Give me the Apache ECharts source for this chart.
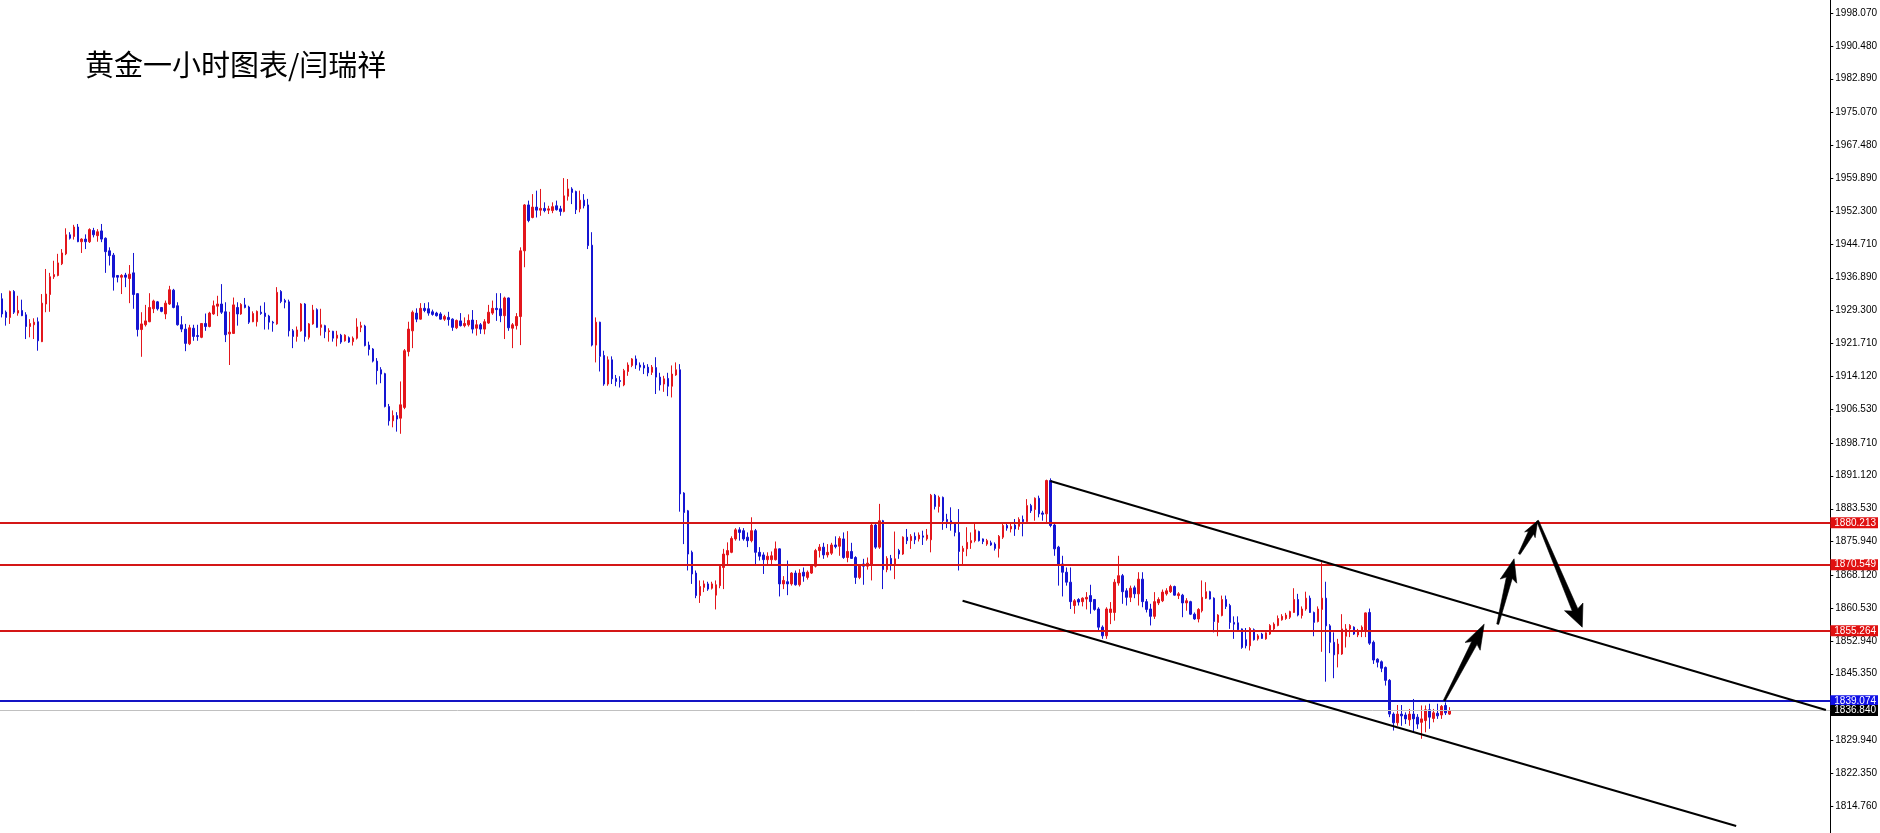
<!DOCTYPE html>
<html>
<head>
<meta charset="utf-8">
<script src="https://cdn.jsdelivr.net/npm/echarts@6/dist/echarts.min.js"></script>
<style>
html,body{margin:0;padding:0;background:#fff;}
#chart{width:1880px;height:833px;}
</style>
</head>
<body>
<div id="chart"></div>
<script>
// Hourly gold candles: [open, close, low, high]
const candles = [
[1932.0,1928.5,1927.7,1933.3],[1928.9,1927.7,1925.8,1929.3],[1927.7,1933.7,1926.2,1933.9],[1933.7,1928.9,1928.5,1934.0],
[1928.7,1929.3,1928.1,1932.7],[1929.3,1928.1,1928.0,1931.8],[1928.3,1925.6,1922.7,1928.9],[1925.6,1926.3,1923.1,1927.3],
[1926.0,1926.6,1922.7,1927.5],[1926.7,1922.3,1920.0,1927.7],[1922.1,1931.0,1922.0,1933.1],[1930.8,1933.1,1928.9,1938.9],
[1933.0,1937.1,1929.0,1938.0],[1937.1,1937.6,1936.6,1940.8],[1937.4,1940.3,1937.2,1942.4],[1940.1,1942.6,1939.8,1943.5],
[1942.4,1946.8,1942.1,1948.3],[1946.8,1946.0,1945.7,1947.4],[1946.4,1948.6,1945.7,1949.1],[1948.6,1945.2,1945.1,1949.3],
[1945.2,1945.8,1942.6,1946.0],[1945.8,1945.2,1943.5,1946.9],[1945.2,1948.0,1944.9,1948.3],[1947.8,1946.8,1946.2,1948.4],
[1946.6,1947.5,1945.2,1948.1],[1947.7,1945.8,1945.1,1949.3],[1946.0,1942.9,1938.0,1946.2],[1943.1,1942.0,1939.7,1943.9],
[1942.1,1937.0,1933.9,1942.6],[1937.4,1937.0,1935.8,1937.5],[1937.0,1937.4,1933.1,1937.7],[1937.5,1937.0,1934.7,1938.0],
[1936.7,1937.7,1931.0,1939.8],[1938.0,1933.0,1929.7,1942.6],[1933.2,1924.9,1923.3,1933.3],[1924.9,1926.2,1918.6,1928.9],
[1926.0,1926.9,1925.6,1930.6],[1926.7,1930.0,1926.6,1933.3],[1929.7,1931.5,1928.7,1931.8],[1931.3,1929.7,1929.3,1931.5],
[1930.0,1929.1,1928.9,1930.1],[1928.5,1931.0,1927.3,1931.6],[1930.8,1934.1,1930.6,1935.0],[1934.0,1930.0,1929.8,1934.3],
[1930.4,1926.0,1925.8,1931.2],[1926.0,1925.0,1924.3,1928.0],[1925.0,1921.7,1919.9,1926.2],[1921.6,1925.3,1921.3,1926.0],
[1925.2,1923.3,1922.3,1926.0],[1923.5,1923.3,1922.3,1926.0],[1923.1,1926.3,1922.9,1926.4],[1926.3,1925.6,1924.6,1928.6],
[1925.6,1928.7,1925.4,1929.0],[1928.5,1930.4,1928.3,1931.6],[1930.3,1930.8,1928.0,1932.7],[1930.8,1928.9,1928.5,1935.4],
[1929.0,1923.7,1922.0,1931.2],[1923.9,1924.3,1916.7,1929.0],[1924.0,1930.6,1923.9,1932.3],[1930.0,1928.5,1925.8,1931.2],
[1928.5,1930.7,1928.3,1931.0],[1930.6,1930.0,1929.8,1932.2],[1930.1,1926.6,1926.2,1930.4],[1926.7,1928.6,1926.6,1929.1],
[1926.7,1929.1,1925.6,1929.3],[1928.9,1928.6,1928.3,1930.4],[1928.7,1927.9,1924.9,1931.2],[1928.0,1926.6,1924.9,1928.3],
[1926.6,1926.4,1924.4,1926.9],[1926.2,1933.5,1926.0,1934.7],[1933.7,1931.4,1931.0,1934.0],[1931.6,1931.2,1929.8,1932.0],
[1931.3,1924.6,1923.3,1931.8],[1924.6,1923.3,1920.6,1925.0],[1923.3,1924.8,1922.1,1925.6],[1924.6,1930.8,1924.4,1931.0],
[1930.8,1923.3,1922.1,1931.0],[1923.1,1926.2,1922.6,1926.4],[1926.2,1929.4,1926.0,1930.6],[1929.5,1925.4,1925.3,1929.8],
[1925.4,1926.0,1923.5,1929.7],[1925.8,1924.4,1922.9,1926.0],[1924.4,1924.6,1922.1,1925.2],[1924.5,1922.9,1922.1,1924.6],
[1922.9,1923.6,1921.0,1924.6],[1923.6,1922.0,1921.6,1923.9],[1922.3,1923.6,1922.1,1923.8],[1923.0,1922.0,1921.8,1923.3],
[1922.1,1922.9,1921.2,1923.3],[1922.9,1925.5,1922.6,1927.5],[1925.4,1925.8,1924.3,1926.7],[1925.7,1921.2,1921.0,1926.0],
[1921.3,1920.3,1918.9,1922.1],[1920.4,1917.6,1917.3,1920.6],[1917.6,1915.4,1912.2,1918.3],[1915.6,1914.6,1912.5,1916.2],
[1914.7,1907.1,1906.9,1914.9],[1907.1,1903.8,1902.7,1907.7],[1903.8,1905.0,1902.3,1906.2],[1905.0,1904.2,1901.3,1905.8],
[1904.4,1907.5,1900.8,1912.9],[1906.9,1920.0,1906.5,1920.4],[1919.8,1925.0,1918.7,1926.7],[1924.6,1928.9,1920.6,1929.3],
[1928.7,1927.3,1926.6,1929.8],[1927.3,1929.8,1927.2,1931.0],[1929.8,1929.3,1928.9,1931.0],[1929.7,1928.7,1928.1,1931.2],
[1929.0,1928.4,1928.1,1929.5],[1928.7,1928.1,1927.9,1929.0],[1928.5,1927.3,1927.2,1928.9],[1927.3,1927.9,1926.9,1928.3],
[1927.7,1927.2,1925.8,1929.0],[1927.3,1925.4,1924.6,1927.5],[1925.3,1927.0,1925.0,1927.2],[1926.9,1925.8,1925.6,1928.7],
[1925.8,1926.3,1925.4,1927.7],[1926.0,1927.0,1925.6,1928.4],[1927.1,1925.0,1924.0,1929.4],[1925.2,1926.0,1923.5,1927.1],
[1926.0,1925.0,1923.9,1926.4],[1925.0,1926.7,1923.8,1927.3],[1926.4,1928.9,1926.2,1930.6],[1928.7,1929.8,1928.3,1931.6],
[1929.8,1929.5,1926.9,1933.3],[1929.7,1928.1,1926.6,1933.3],[1928.1,1932.2,1922.7,1932.5],[1932.2,1925.3,1924.6,1932.3],
[1925.2,1926.0,1920.6,1926.4],[1925.8,1927.9,1924.9,1928.7],[1927.9,1943.1,1921.3,1943.9],[1943.1,1953.7,1939.3,1953.9],
[1953.7,1950.1,1949.7,1954.7],[1950.8,1953.2,1950.6,1956.2],[1953.2,1952.5,1950.8,1957.0],[1952.5,1952.9,1951.2,1957.4],
[1952.9,1952.4,1952.0,1954.3],[1952.5,1952.8,1951.6,1953.5],[1952.4,1953.3,1951.8,1954.3],[1953.5,1952.6,1952.4,1954.7],
[1952.8,1952.2,1951.2,1953.5],[1952.2,1955.8,1952.0,1959.9],[1955.7,1957.4,1954.7,1959.7],[1957.4,1956.6,1953.9,1957.8],
[1956.8,1952.6,1951.6,1957.0],[1952.8,1954.8,1952.0,1957.0],[1954.8,1953.5,1952.9,1956.2],[1953.7,1944.3,1943.5,1955.1],
[1944.4,1921.3,1921.0,1947.4],[1921.3,1926.6,1917.3,1927.7],[1926.6,1918.7,1915.2,1926.7],[1918.9,1912.3,1911.9,1920.0],
[1912.3,1917.9,1911.9,1918.7],[1917.9,1913.5,1912.3,1918.7],[1913.6,1912.9,1911.8,1914.4],[1913.1,1912.9,1911.5,1914.1],
[1912.1,1915.4,1911.8,1915.8],[1915.2,1916.7,1914.2,1917.3],[1916.6,1918.1,1916.2,1918.3],[1918.1,1916.7,1915.8,1918.9],
[1916.7,1916.2,1915.4,1917.3],[1916.6,1916.0,1914.6,1917.3],[1916.2,1914.9,1914.1,1916.9],[1915.0,1916.2,1914.4,1916.7],
[1916.1,1913.9,1910.0,1918.5],[1913.9,1912.1,1910.8,1914.9],[1912.3,1913.5,1910.5,1914.2],[1913.6,1911.8,1909.5,1914.9],
[1911.8,1914.6,1909.2,1916.6],[1914.4,1915.6,1914.2,1917.3],[1915.6,1886.9,1882.8,1916.9],[1887.1,1882.6,1875.3,1887.3],
[1883.0,1873.0,1869.2,1883.2],[1873.4,1868.4,1866.1,1873.8],[1868.6,1863.4,1862.8,1869.2],[1863.4,1865.5,1861.7,1866.9],
[1865.3,1866.1,1864.2,1866.9],[1866.1,1864.9,1864.5,1866.6],[1865.1,1866.1,1864.8,1866.6],[1863.5,1865.9,1860.2,1866.9],
[1865.7,1870.2,1865.1,1870.7],[1869.9,1873.0,1864.9,1874.2],[1872.8,1873.8,1870.7,1875.7],[1873.4,1876.6,1873.2,1877.1],
[1876.5,1878.6,1876.1,1879.0],[1878.6,1878.0,1876.1,1879.2],[1878.4,1876.5,1876.1,1879.0],[1876.9,1876.1,1874.6,1878.0],
[1876.1,1878.4,1875.7,1881.5],[1878.4,1873.4,1870.3,1878.8],[1873.4,1872.5,1871.5,1874.6],[1872.8,1871.7,1868.4,1873.4],
[1871.7,1872.5,1870.7,1873.4],[1871.7,1872.6,1870.3,1873.6],[1871.7,1874.2,1871.5,1875.9],[1874.2,1866.1,1863.2,1874.3],
[1866.1,1866.9,1864.9,1867.9],[1866.6,1866.1,1863.5,1871.5],[1866.1,1868.6,1865.7,1868.8],[1868.6,1865.9,1865.7,1869.2],
[1865.9,1868.6,1865.5,1869.5],[1868.8,1867.9,1866.6,1869.9],[1867.6,1868.8,1867.1,1869.2],[1868.6,1870.3,1868.4,1870.7],
[1870.2,1873.8,1869.9,1874.2],[1873.8,1874.6,1872.2,1875.3],[1874.6,1872.8,1871.9,1875.6],[1872.8,1873.4,1872.2,1875.3],
[1873.2,1875.1,1872.8,1875.6],[1875.1,1874.7,1874.3,1877.1],[1874.8,1876.6,1872.6,1877.1],[1876.5,1872.2,1871.9,1878.0],
[1872.2,1873.6,1871.1,1878.3],[1873.6,1872.0,1871.9,1875.6],[1872.2,1867.6,1866.1,1872.5],[1867.6,1870.3,1867.2,1870.7],
[1870.7,1870.2,1865.9,1871.9],[1870.2,1870.9,1869.4,1872.2],[1870.7,1879.7,1866.9,1880.0],[1879.7,1874.6,1874.2,1880.0],
[1874.6,1880.7,1874.2,1884.6],[1880.7,1869.4,1864.9,1880.9],[1869.4,1872.0,1868.8,1872.5],[1872.0,1870.5,1869.2,1872.8],
[1870.5,1871.9,1867.2,1878.2],[1873.8,1873.0,1871.9,1874.2],[1873.0,1876.9,1872.8,1877.1],[1876.9,1876.1,1875.3,1878.8],
[1876.1,1877.1,1874.2,1877.6],[1877.1,1876.3,1875.3,1878.0],[1876.5,1877.4,1875.9,1878.0],[1877.2,1876.9,1875.1,1878.4],
[1876.5,1877.4,1876.1,1878.8],[1876.3,1886.6,1873.4,1886.9],[1886.6,1884.0,1883.3,1886.9],[1884.0,1886.1,1882.6,1886.5],
[1886.1,1880.7,1878.6,1886.3],[1881.0,1880.5,1879.0,1882.3],[1880.7,1880.0,1878.4,1883.8],[1880.0,1878.0,1877.1,1880.3],
[1878.0,1873.6,1869.2,1883.4],[1873.6,1874.3,1870.3,1874.9],[1874.2,1875.7,1872.5,1879.2],[1875.6,1876.1,1874.2,1878.0],
[1876.1,1878.6,1875.7,1880.0],[1878.2,1876.1,1875.9,1878.4],[1876.5,1875.9,1875.3,1876.6],[1875.3,1876.1,1874.9,1876.5],
[1875.6,1875.1,1874.9,1876.1],[1875.3,1874.3,1873.8,1875.7],[1874.3,1877.1,1872.2,1877.4],[1876.9,1879.6,1876.5,1880.0],
[1879.6,1879.0,1878.4,1880.0],[1878.8,1879.4,1878.0,1880.0],[1879.7,1878.8,1877.2,1881.1],[1879.4,1881.0,1878.6,1881.5],
[1881.0,1880.5,1877.1,1881.9],[1880.5,1884.2,1880.2,1885.7],[1884.2,1883.0,1882.5,1884.6],[1883.3,1885.9,1880.7,1886.1],
[1885.9,1882.3,1881.5,1886.5],[1882.5,1882.2,1880.7,1883.0],[1882.3,1890.0,1880.0,1890.2],[1890.0,1879.6,1879.2,1890.5],
[1879.7,1874.2,1872.6,1880.0],[1874.6,1870.7,1865.7,1874.9],[1870.7,1868.8,1863.2,1872.6],[1868.8,1866.5,1865.7,1869.9],
[1866.5,1862.0,1860.3,1869.9],[1861.1,1862.2,1859.2,1862.6],[1862.5,1861.9,1861.1,1862.8],[1862.0,1862.8,1860.9,1863.0],
[1862.6,1863.0,1860.2,1864.2],[1863.4,1862.0,1859.2,1865.9],[1862.5,1860.2,1859.9,1862.6],[1860.3,1856.1,1855.3,1860.7],
[1856.1,1854.1,1853.4,1856.5],[1854.1,1860.3,1853.4,1860.7],[1859.5,1860.3,1856.8,1861.9],[1859.5,1866.5,1857.6,1867.2],
[1866.3,1868.0,1865.7,1872.6],[1868.0,1864.3,1861.5,1868.4],[1864.5,1863.0,1861.1,1865.1],[1863.0,1865.1,1861.9,1865.7],
[1865.2,1863.8,1862.8,1865.7],[1863.8,1867.2,1861.1,1868.8],[1867.2,1862.0,1860.7,1868.8],[1862.0,1860.2,1859.5,1862.6],
[1860.3,1858.6,1856.5,1861.5],[1858.6,1862.0,1858.0,1864.2],[1861.7,1862.5,1861.2,1863.0],[1862.2,1864.2,1861.9,1864.8],
[1863.8,1864.5,1863.4,1865.1],[1864.3,1865.5,1864.0,1865.9],[1865.5,1863.5,1863.4,1865.7],[1863.4,1863.8,1862.6,1864.2],
[1863.5,1861.7,1858.4,1863.8],[1861.7,1862.2,1859.9,1862.8],[1862.0,1859.1,1858.9,1862.2],[1859.1,1858.0,1857.8,1859.5],
[1858.0,1860.2,1857.2,1860.5],[1859.9,1863.0,1859.5,1866.9],[1862.8,1864.3,1862.6,1866.5],[1864.3,1862.6,1862.5,1864.5],
[1862.8,1857.4,1854.9,1863.0],[1857.2,1858.9,1854.0,1859.1],[1858.8,1862.5,1858.6,1863.4],[1862.5,1860.9,1860.3,1863.4],
[1861.1,1857.2,1855.7,1861.5],[1857.2,1856.8,1853.4,1858.6],[1857.1,1855.5,1855.3,1858.6],[1855.7,1851.4,1851.1,1855.8],
[1853.2,1851.8,1851.2,1855.9],[1851.8,1855.8,1850.7,1856.1],[1855.5,1853.2,1853.0,1855.8],[1853.4,1854.1,1853.0,1854.5],
[1854.5,1853.5,1853.4,1854.8],[1853.4,1854.8,1853.2,1854.9],[1854.5,1856.5,1854.3,1856.8],[1855.7,1856.8,1855.3,1857.2],
[1856.5,1858.1,1856.3,1858.8],[1857.8,1858.6,1857.6,1859.1],[1858.1,1858.9,1857.8,1859.4],[1858.4,1859.7,1858.0,1859.9],
[1859.5,1862.5,1859.4,1865.1],[1862.5,1858.9,1858.6,1863.8],[1858.8,1860.3,1858.1,1860.9],[1860.3,1862.8,1859.9,1864.3],
[1862.8,1859.5,1859.4,1863.4],[1859.5,1857.2,1854.0,1859.7],[1857.4,1860.3,1857.2,1860.9],[1860.2,1862.8,1850.4,1871.1],
[1862.8,1856.4,1843.5,1866.6],[1856.4,1852.6,1850.1,1856.8],[1852.6,1849.7,1844.3,1854.9],[1849.9,1852.2,1846.8,1853.4],
[1849.9,1855.7,1849.7,1859.1],[1854.0,1855.7,1851.4,1856.8],[1855.7,1856.5,1853.8,1856.8],[1856.1,1854.5,1854.3,1856.3],
[1854.3,1855.3,1853.8,1855.7],[1855.3,1856.1,1853.8,1856.5],[1855.3,1859.4,1853.8,1859.5],[1859.5,1852.4,1852.0,1860.4],
[1852.6,1848.5,1847.6,1853.0],[1848.7,1848.0,1846.8,1848.9],[1848.1,1846.6,1845.7,1848.4],[1846.8,1843.8,1842.6,1847.0],
[1843.8,1836.0,1835.3,1844.1],[1836.0,1834.0,1832.2,1836.4],[1834.0,1836.0,1833.3,1838.1],[1836.0,1835.6,1833.3,1838.1],
[1835.8,1834.9,1833.7,1836.4],[1834.7,1836.0,1833.3,1837.2],[1836.0,1834.9,1831.8,1839.5],[1835.3,1833.7,1832.6,1836.0],
[1834.1,1834.9,1830.3,1838.0],[1834.5,1837.0,1831.8,1838.0],[1837.0,1835.3,1832.6,1838.4],[1835.0,1836.3,1834.1,1837.2],
[1836.2,1835.6,1834.9,1838.4],[1835.8,1837.8,1834.9,1838.1],[1838.0,1836.3,1835.8,1838.7],[1836.0,1836.8,1835.8,1837.6]
];

// Category slots (bars plus empty space to the right)
const categories = Array.from({length: 459}, (_, i) => String(i));

// Right-hand price scale tick labels
const yTicks = [1998.070,1990.480,1982.890,1975.070,1967.480,1959.890,1952.300,1944.710,1936.890,1929.300,
  1921.710,1914.120,1906.530,1898.710,1891.120,1883.530,1875.940,1868.120,1860.530,1852.940,1845.350,
  1829.940,1822.350,1814.760];

// Horizontal levels
const resistanceLevels = [1880.213, 1870.549, 1855.264];
const blueLevel = 1839.074;
const bidLevel = 1836.840;

// Channel lines [barIndex, price]
const channelUpper = [[262.9, 1889.89], [457.4, 1836.95]];
const channelLower = [[240.9, 1862.22], [434.9, 1810.13]];

// Projection arrows [fromBar, fromPrice, toBar, toPrice]
const arrows = [
  [361.7, 1839.1, 371.7, 1856.8],
  [375.1, 1856.8, 379.2, 1871.9],
  [380.5, 1873.0, 385.1, 1880.7],
  [385.1, 1880.7, 396.3, 1856.1]
];
const arrowHeads = [[25, 17], [23, 17], [16, 12], [22, 20]];

const UP = '#e3161c', DOWN = '#1515d2';
const LINE_RED = '#d41616';
const scaleFont = '"Liberation Sans", Arial, sans-serif';

const chart = echarts.init(document.getElementById('chart'), null, {renderer: 'canvas'});

function tag(bg) {
  return {
    show: true, position: 'end', distance: 0,
    formatter: p => Number(p.value).toFixed(3),
    color: '#fff', backgroundColor: bg,
    padding: [0, 2, 0, 4], fontSize: 10, fontFamily: scaleFont, lineHeight: 11
  };
}

const markData = resistanceLevels.map(v => ({
  yAxis: v, lineStyle: {color: LINE_RED, width: 2, type: 'solid'}, label: tag('#e01010')
}));
markData.push({yAxis: blueLevel, lineStyle: {color: '#1414c4', width: 2, type: 'solid'}, label: tag('#1010e6')});
markData.push({yAxis: bidLevel, lineStyle: {color: '#c0c0c0', width: 1, type: 'solid'}, label: tag('#000000')});

const option = {
  animation: false,
  backgroundColor: '#ffffff',
  title: {
    text: '黄金一小时图表/闫瑞祥',
    left: 80, top: 45,
    textStyle: {fontSize: 29, fontWeight: 'normal', color: '#000', fontFamily: '"Noto Sans CJK SC", sans-serif'}
  },
  grid: {left: -1, right: 45, top: 0, bottom: 0, containLabel: false},
  xAxis: [
    {type: 'category', data: categories, boundaryGap: true, show: false, axisLine: {onZero: false}},
    {type: 'value', min: -0.5, max: 458.5, show: false, axisLine: {onZero: false}, splitLine: {show: false}}
  ],
  yAxis: {
    type: 'value', position: 'right', min: 1808.519, max: 2001.075, scale: true,
    axisLine: {show: true, onZero: false, lineStyle: {color: '#000', width: 1}},
    axisTick: {show: false},
    axisLabel: {
      show: true, customValues: yTicks, margin: 5,
      formatter: v => Number(v).toFixed(3),
      color: '#000', fontSize: 10, fontFamily: scaleFont
    },
    splitLine: {show: false},
    splitArea: {show: false}
  },
  series: [
    {
      type: 'candlestick',
      xAxisIndex: 0,
      data: candles,
      barWidth: 2,
      itemStyle: {color: UP, color0: DOWN, borderColor: UP, borderColor0: DOWN, borderWidth: 1},
      markLine: {silent: true, precision: 3, symbol: ['none', 'none'], animation: false, data: markData}
    },
    {
      type: 'line', xAxisIndex: 1, data: channelUpper, symbol: 'none', silent: true,
      lineStyle: {color: '#000', width: 2}, z: 5
    },
    {
      type: 'line', xAxisIndex: 1, data: channelLower, symbol: 'none', silent: true,
      lineStyle: {color: '#000', width: 2}, z: 5
    },
    {
      // price-scale tick marks at the custom tick values
      type: 'custom', xAxisIndex: 1, silent: true, clip: false,
      data: yTicks.map(v => [0, v]),
      renderItem: function (params, api) {
        const y = Math.round(api.coord([0, api.value(1)])[1]) + 0.5;
        const x = params.coordSys.x + params.coordSys.width;
        return {type: 'line', shape: {x1: x, y1: y, x2: x + 3, y2: y}, style: {stroke: '#000', lineWidth: 1}};
      }
    },
    {
      type: 'custom', xAxisIndex: 1, data: arrows, silent: true, z: 6,
      encode: {x: [0, 2], y: [1, 3]},
      renderItem: function (params, api) {
        const s = api.coord([api.value(0), api.value(1)]);
        const e = api.coord([api.value(2), api.value(3)]);
        const hs = arrowHeads[params.dataIndex];
        const dx = e[0] - s[0], dy = e[1] - s[1];
        const len = Math.sqrt(dx * dx + dy * dy);
        const ux = dx / len, uy = dy / len, nx = -uy, ny = ux;
        const hl = hs[0], hw = hs[1] / 2;
        const cb = [e[0] - ux * hl, e[1] - uy * hl];
        const nk = [e[0] - ux * hl * 0.85, e[1] - uy * hl * 0.85];
        const pts = [
          [s[0] + nx * 1.0, s[1] + ny * 1.0],
          [nk[0] + nx * 3, nk[1] + ny * 3],
          [cb[0] + nx * hw, cb[1] + ny * hw],
          [e[0], e[1]],
          [cb[0] - nx * hw, cb[1] - ny * hw],
          [nk[0] - nx * 3, nk[1] - ny * 3],
          [s[0] - nx * 1.0, s[1] - ny * 1.0]
        ];
        return {type: 'polygon', shape: {points: pts}, style: {fill: '#000', stroke: '#000', lineWidth: 0.6}};
      }
    }
  ]
};

chart.setOption(option);
</script>
</body>
</html>
